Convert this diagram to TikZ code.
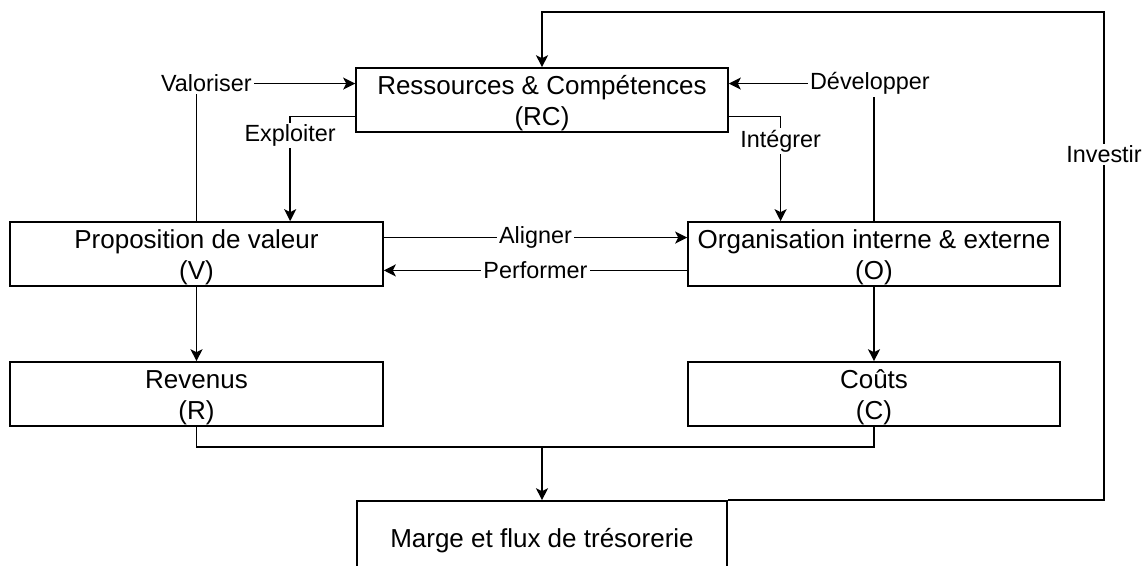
\documentclass[tikz,border=0pt]{standalone}
\usepackage{fontspec}
\setmainfont{Liberation Sans}
\usetikzlibrary{arrows.meta,calc}
\newcommand{\toppad}{\rule{0pt}{12.5pt}}
\begin{document}
\begin{tikzpicture}[x=0.5pt,y=-0.5pt,
 box/.style={draw,line width=0.8pt,minimum width=186pt,minimum height=32pt,inner sep=0pt,align=center,font=\fontsize{13}{15.5}\selectfont},
 lbl/.style={fill=white,inner sep=1pt,font=\fontsize{11.7}{13}\selectfont},
 conn/.style={line width=0.8pt},
 arr/.style={conn,-{Stealth[length=6pt,width=6pt,inset=1.5pt]}}]
\useasboundingbox (0,0) rectangle (1147,566);
\node[box] (rc) at (542,100) {\toppad Ressources \& Compétences\\(RC)};
\node[box,minimum width=186.5pt] (v) at (196.5,254) {\toppad Proposition de valeur\\(V)};
\node[box] (o) at (874,254) {\toppad Organisation interne \& externe\\(O)};
\node[box,minimum width=186.5pt] (r) at (196.5,394) {\toppad Revenus\\(R)};
\node[box] (c) at (874,394) {\toppad Coûts\\(C)};
\node[box,minimum width=185pt,minimum height=40pt] (m) at (542,541) {Marge et flux de trésorerie};
\coordinate (t) at (1104,12);
\coordinate (j) at (542,447);
% connectors
\draw[arr] (v.north) |- node[lbl,pos=0.531]{Valoriser} ($(rc.north west)!0.25!(rc.south west)$);
\draw[arr] (o.north) |- node[lbl,pos=0.514]{Développer} ($(rc.north east)!0.25!(rc.south east)$);
\draw[arr] ($(rc.north west)!0.75!(rc.south west)$) -| node[lbl,pos=0.591]{Exploiter} ($(v.north west)!0.75!(v.north east)$);
\draw[arr] ($(rc.north east)!0.75!(rc.south east)$) -| node[lbl,pos=0.618]{Intégrer} ($(o.north west)!0.25!(o.north east)$);
\draw[arr] ($(v.north east)!0.25!(v.south east)$) -- node[lbl]{Aligner} ($(o.north west)!0.25!(o.south west)$);
\draw[arr] ($(o.north west)!0.75!(o.south west)$) -- node[lbl]{Performer} ($(v.north east)!0.75!(v.south east)$);
\draw[arr] (v.south) -- (r.north);
\draw[arr] (o.south) -- (c.north);
\draw[conn] (r.south) |- (j) -| (c.south);
\draw[arr] (j) -- (m.north);
\draw[arr] (m.north east) -| node[lbl,pos=0.854]{Investir} (t) -| (rc.north);
\end{tikzpicture}
\end{document}
